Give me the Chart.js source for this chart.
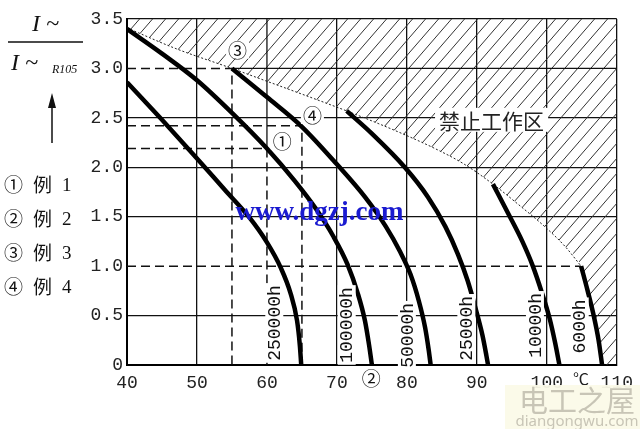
<!DOCTYPE html>
<html>
<head>
<meta charset="utf-8">
<script src="https://cdn.jsdelivr.net/npm/chart.js@4/dist/chart.umd.min.js"></script>
<style>
body { margin: 0; background: #fff; }
</style>
</head>
<body>
<canvas id="chart" width="640" height="429"></canvas>
<script>
// ticks
var x_ticks = [40, 50, 60, 70, 80, 90, 100, 110];
var y_ticks = [0, 0.5, 1, 1.5, 2, 2.5, 3, 3.5];
var y_tick_labels = ['0', '0.5', '1.0', '1.5', '2.0', '2.5', '3.0', '3.5'];

// life curves, [temperature, I~/I~R105]
var life_labels = ['250000h', '100000h', '50000h', '25000h', '10000h', '6000h'];
var curve_250000h = [[40,2.86],[45,2.48],[50,2.09],[54,1.77],[57.4,1.5],[60,1.24],[62,0.98],[63.4,0.72],[64.3,0.45],[64.7,0.2],[64.9,0]];
var curve_100000h = [[40,3.4],[45,3.15],[50,2.88],[55,2.55],[60,2.19],[64,1.86],[67,1.58],[69.5,1.3],[71.5,1.02],[73,0.72],[74,0.45],[74.6,0.2],[75,0]];
var curve_50000h = [[55,3.0],[60,2.71],[65,2.41],[70,2.03],[74,1.7],[77,1.4],[79,1.15],[80.5,0.92],[81.7,0.65],[82.6,0.38],[83.1,0.16],[83.4,0]];
var curve_25000h = [[71.4,2.57],[75,2.34],[79.7,2.0],[83,1.7],[85.5,1.4],[87.3,1.12],[88.7,0.85],[89.9,0.55],[90.8,0.3],[91.35,0.1],[91.6,0]];
var curve_10000h = [[92.3,1.83],[94.5,1.53],[96.5,1.25],[98,1.0],[99.3,0.73],[100.4,0.47],[101.2,0.22],[101.8,0]];
var curve_6000h = [[104.9,1.0],[105.8,0.76],[106.7,0.5],[107.4,0.25],[107.9,0]];

// edge of the forbidden zone
var limit_line = [[40,3.41],[47,3.2],[55,3.0],[60,2.87],[65,2.74],[71.4,2.57],[76,2.44],[80,2.32],[84,2.19],[88,2.04],[92.3,1.83],[96,1.62],[99.7,1.4],[102.6,1.2],[104.9,1.0]];

// worked examples (dashed)
var example_1 = [[40,2.19],[60,2.19],[60,0]];
var example_3 = [[40,3.0],[55,3.0],[55,0]];
var example_4 = [[40,2.42],[65,2.42],[65,0]];
var dashed_1a = [[40,1.0],[104.9,1.0]];
// grid pieces that stay solid where the example lines take over
var solid_3a = [[55,3.0],[110,3.0]];
var solid_60 = [[60,2.19],[60,3.5]];

// text placed in the plot
var curve_notes = [
  {t: '250000h', x: 61.05, y: 0.425},
  {t: '100000h', x: 71.4, y: 0.405},
  {t: '50000h', x: 80.0, y: 0.30},
  {t: '25000h', x: 88.5, y: 0.37},
  {t: '10000h', x: 98.3, y: 0.40},
  {t: '6000h', x: 104.7, y: 0.39}
];
var marks = [
  {t: '\u2462', x: 55.8, y: 3.19},
  {t: '\u2463', x: 66.5, y: 2.53},
  {t: '\u2460', x: 62.2, y: 2.27},
  {t: '\u2461', x: 74.9, y: -0.13}
];

function pts(arr) {
  return arr.map(function(p) { return {x: p[0], y: p[1]}; });
}

function hatch() {
  var w = 13, h = 15;
  var c = document.createElement('canvas');
  c.width = w; c.height = h;
  var g = c.getContext('2d');
  g.strokeStyle = '#333';
  g.lineWidth = 1;
  g.beginPath();
  [-w, 0, w].forEach(function(o) {
    g.moveTo(o - w, 2 * h);
    g.lineTo(o + 2 * w, -h);
  });
  g.stroke();
  return g.createPattern(c, 'repeat');
}

function curve(arr) {
  return {data: pts(arr), showLine: true, borderColor: '#000', borderWidth: 4.5,
    pointRadius: 0, cubicInterpolationMode: 'monotone', fill: false};
}
function straight(arr, dash, width) {
  return {data: pts(arr), showLine: true, borderColor: '#111', borderWidth: width,
    borderDash: dash, pointRadius: 0, tension: 0, fill: false};
}

var zone = limit_line.concat(curve_6000h.slice(1)).concat([[110, -1]]);

var datasets = [
  curve(curve_250000h), curve(curve_100000h), curve(curve_50000h),
  curve(curve_25000h), curve(curve_10000h), curve(curve_6000h),
  {data: pts(limit_line), showLine: true, borderColor: '#222', borderWidth: 1,
    borderDash: [2, 2], pointRadius: 0, cubicInterpolationMode: 'monotone', fill: false},
  straight(example_1, [9, 5], 1.5),
  straight(example_3, [9, 5], 1.5),
  straight(example_4, [9, 5], 1.5),
  straight(dashed_1a, [9, 5], 1.5),
  straight(solid_3a, [], 1.3),
  straight(solid_60, [], 1.3),
  {data: pts(zone), showLine: true, borderColor: 'rgba(0,0,0,0)', borderWidth: 0,
    pointRadius: 0, cubicInterpolationMode: 'monotone', fill: 'end', backgroundColor: hatch()}
];

function boxText(ctx, t, px, py, rot) {
  ctx.save();
  ctx.translate(px, py);
  if (rot) ctx.rotate(-Math.PI / 2);
  var w = ctx.measureText(t).width;
  ctx.fillStyle = '#fff';
  ctx.fillRect(-w / 2 - 2, -9, w + 4, 18);
  ctx.fillStyle = '#111';
  ctx.fillText(t, 0, 1);
  ctx.restore();
}

var notesPlugin = {
  id: 'notes',
  afterDatasetsDraw: function(chart) {
    var ctx = chart.ctx, xs = chart.scales.x, ys = chart.scales.y;
    ctx.save();
    ctx.textAlign = 'center';
    ctx.textBaseline = 'middle';
    ctx.font = '18px "Liberation Mono"';
    curve_notes.forEach(function(n) {
      boxText(ctx, n.t, xs.getPixelForValue(n.x), ys.getPixelForValue(n.y), true);
    });
    ctx.font = '19px "Noto Sans CJK SC"';
    marks.forEach(function(n) {
      boxText(ctx, n.t, xs.getPixelForValue(n.x), ys.getPixelForValue(n.y), false);
    });
    ctx.font = '21px "Noto Sans CJK SC"';
    var zx = xs.getPixelForValue(92.1), zy = ys.getPixelForValue(2.48);
    var zw = ctx.measureText('禁止工作区').width;
    ctx.fillStyle = '#fff';
    ctx.fillRect(zx - zw / 2 - 4, zy - 12, zw + 8, 24);
    ctx.fillStyle = '#222';
    ctx.fillText('禁止工作区', zx, zy + 1);
    ctx.font = '16px "Noto Sans CJK SC"';
    ctx.fillText('\u2103', xs.getPixelForValue(104.9), ys.getPixelForValue(-0.14));
    ctx.font = 'bold 27px "Liberation Serif"';
    ctx.fillStyle = '#1a1ad0';
    ctx.fillText('www.dgzj.com', xs.getPixelForValue(67.5), ys.getPixelForValue(1.54));
    ctx.restore();
  },
  afterDraw: function(chart) {
    var ctx = chart.ctx;
    ctx.save();
    ctx.fillStyle = '#111';
    ctx.strokeStyle = '#111';
    ctx.textBaseline = 'middle';
    ctx.textAlign = 'left';
    // y title as a fraction
    ctx.font = 'italic 24px "Liberation Serif"';
    ctx.fillText('I ~', 32, 25);
    ctx.fillText('I ~', 11, 64);
    ctx.font = 'italic 12px "Liberation Serif"';
    ctx.fillText('R105', 52, 70);
    ctx.lineWidth = 1.5;
    ctx.beginPath();
    ctx.moveTo(8, 42); ctx.lineTo(83, 42);
    ctx.moveTo(52, 143); ctx.lineTo(52, 104);
    ctx.stroke();
    ctx.beginPath();
    ctx.moveTo(52, 93); ctx.lineTo(48, 108); ctx.lineTo(56, 108);
    ctx.closePath(); ctx.fill();
    // examples key
    var keys = ['\u2460', '\u2461', '\u2462', '\u2463'];
    keys.forEach(function(k, i) {
      var y = 185 + i * 34;
      ctx.font = '19px "Noto Sans CJK SC"';
      ctx.fillText(k, 4, y);
      ctx.fillText('例', 33, y);
      ctx.font = '19px "Liberation Serif"';
      ctx.fillText(String(i + 1), 62, y + 1);
    });
    // site stamp, bottom right
    ctx.fillStyle = 'rgba(251,250,232,0.95)';
    ctx.fillRect(505, 385, 135, 44);
    ctx.textAlign = 'center';
    ctx.fillStyle = '#c8c5b6';
    ctx.font = '29px "Noto Sans CJK SC"';
    ctx.fillText('电工之屋', 577, 401);
    ctx.font = '15px "Noto Sans"';
    ctx.fillText('diangongwu.com', 577, 422);
    ctx.restore();
  }
};

var ctx = document.getElementById('chart').getContext('2d');
var chart = new Chart(ctx, {
  type: 'scatter',
  data: {datasets: datasets},
  options: {
    responsive: false,
    animation: false,
    layout: {padding: {top: 19, right: 21, left: 0, bottom: 0}},
    plugins: {legend: {display: false}, tooltip: {enabled: false}},
    scales: {
      x: {
        type: 'linear', min: 40, max: 110,
        afterBuildTicks: function(s) { s.ticks = x_ticks.map(function(v) { return {value: v}; }); },
        afterFit: function(s) { s.height = 64; },
        grid: {
          color: function(c) { return c.tick && c.tick.value === 60 ? 'rgba(0,0,0,0)' : '#111'; },
          lineWidth: 1.3, drawTicks: false
        },
        border: {color: '#000', width: 2},
        ticks: {color: '#222', padding: 7, maxRotation: 0, font: {family: 'Liberation Mono', size: 18}}
      },
      y: {
        type: 'linear', min: 0, max: 3.5,
        afterBuildTicks: function(s) { s.ticks = y_ticks.map(function(v) { return {value: v}; }); },
        afterFit: function(s) { s.width = 127; },
        grid: {
          color: function(c) { return c.tick && (c.tick.value === 3 || c.tick.value === 1) ? 'rgba(0,0,0,0)' : '#111'; },
          lineWidth: 1.3, drawTicks: false
        },
        border: {color: '#000', width: 2},
        ticks: {
          color: '#222', padding: 4, font: {family: 'Liberation Mono', size: 18},
          callback: function(v, i) { return y_tick_labels[i]; }
        }
      }
    }
  },
  plugins: [notesPlugin]
});
</script>
</body>
</html>
